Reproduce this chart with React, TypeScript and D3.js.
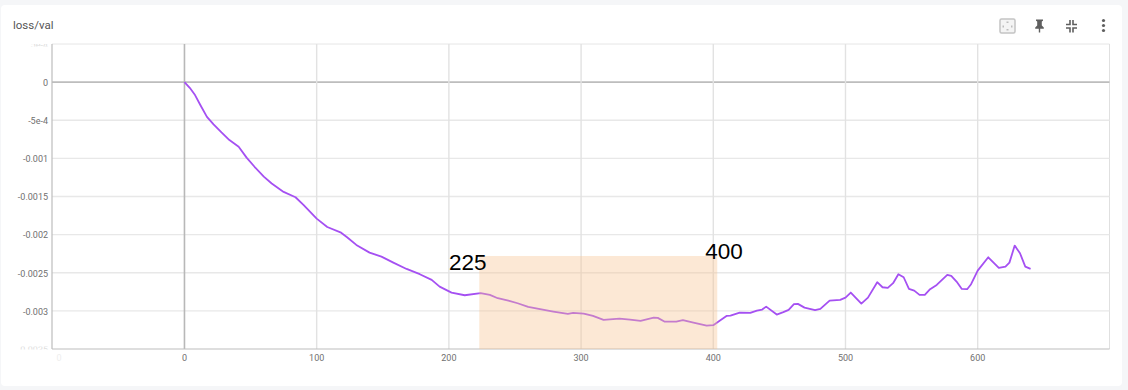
import React from "react";
import * as d3 from "d3";

const title = "loss/val";
const steps = [0,4,8,12,17,22,28,34,41,47,53,60,66,75,84,90,100,108,118,123,130,140,149,158,168,178,187,193,202,212,224,231,237,245,252,260,269,279,290,294,302,309,317,329,337,345,355,358,363,372,377,385,395,400,404,410,413,420,428,433,437,440,448,453,457,461,464,469,477,481,488,496,500,504,512,517,524,528,532,536,540,544,548,552,556,560,564,569,577,580,584,588,592,595,600,608,616,621,624,628,632,636,640];
const values = [0,-0.000074,-0.00017,-0.0003,-0.000455,-0.000555,-0.00066,-0.00076,-0.000847,-0.00099,-0.00111,-0.00124,-0.00133,-0.00144,-0.00151,-0.00161,-0.00179,-0.0019,-0.00197,-0.002035,-0.002135,-0.002236,-0.002289,-0.002367,-0.00245,-0.002519,-0.002594,-0.002682,-0.00276,-0.002795,-0.002768,-0.00279,-0.002834,-0.002865,-0.0029,-0.002948,-0.002978,-0.003009,-0.003039,-0.003026,-0.003035,-0.003066,-0.003118,-0.003101,-0.003114,-0.003131,-0.003088,-0.003092,-0.00314,-0.00314,-0.003122,-0.003154,-0.003193,-0.003188,-0.00314,-0.003066,-0.003062,-0.003022,-0.003026,-0.002996,-0.002983,-0.002944,-0.003048,-0.003017,-0.002987,-0.002912,-0.002908,-0.002957,-0.002991,-0.002974,-0.002865,-0.002856,-0.002826,-0.00276,-0.002904,-0.002826,-0.002624,-0.00269,-0.002699,-0.002637,-0.002519,-0.002559,-0.002712,-0.002734,-0.00279,-0.00279,-0.002716,-0.00266,-0.002528,-0.002542,-0.002616,-0.002712,-0.002716,-0.00265,-0.002472,-0.002297,-0.002437,-0.00242,-0.002367,-0.002144,-0.002244,-0.00242,-0.00245];
const xTicks = [0,100,200,300,400,500,600];
const yTicks = [0,-0.0005,-0.001,-0.0015,-0.002,-0.0025,-0.003];
const yTickLabels = ["0","-5e-4","-0.001","-0.0015","-0.002","-0.0025","-0.003"];
const bandStart = 223;
const bandEnd = 403;
const bandTop = -0.00228;
const annotations = [
  { label: "225", step: 200, value: -0.00246 },
  { label: "400", step: 394, value: -0.00231 },
];

const left = 52, right = 1109.5, top = 44, bottom = 349;
const fontUi = "Roboto, 'Noto Sans', sans-serif";

export default function App() {
  const x = d3.scaleLinear().domain([-100.2, 699.7]).range([left, right]);
  const y = d3.scaleLinear().domain([0.0005, -0.0035]).range([top, bottom]);
  const line = d3.line<number>()
    .x((_, i) => x(steps[i]))
    .y((d) => y(d))
    .curve(d3.curveLinear);
  return (
    <svg width={1128} height={390} style={{ position: "absolute", left: 0, top: 0, display: "block" }}>
      <defs>
        <clipPath id="ghostTop"><rect x={0} y={44} width={50} height={2.5} /></clipPath>
        <clipPath id="ghostBottom"><rect x={0} y={346.5} width={50} height={3} /></clipPath>
      </defs>
      <rect width={1128} height={390} fill="#f5f6f8" />
      <rect x={1} y={5} width={1121} height={381} rx={4} fill="#fff" />
      <text x={13} y={29} fontFamily={fontUi} fontSize={11.5} fill="#555">{title}</text>

      <line x1={left} x2={right} y1={top} y2={top} stroke="#e6e6e6" strokeWidth={1} />
      <line x1={right} x2={right} y1={top} y2={bottom} stroke="#e0e0e0" strokeWidth={1} />
      {yTicks.map((t, i) => (
        <g key={t}>
          <line x1={left} x2={right} y1={y(t)} y2={y(t)} stroke={t === 0 ? "#bdbdbd" : "#e8e8e8"} strokeWidth={t === 0 ? 1.6 : 1.4} />
          <text x={48} y={y(t) + 3.8} textAnchor="end" fontFamily={fontUi} fontSize={9} fill="#707070">{yTickLabels[i]}</text>
        </g>
      ))}
      <text x={48} y={y(0.0005) + 3.8} textAnchor="end" fontFamily={fontUi} fontSize={9} fill="#dddddd" clipPath="url(#ghostTop)">5e-4</text>
      <text x={48} y={y(-0.0035) + 3.8} textAnchor="end" fontFamily={fontUi} fontSize={9} fill="#dddddd" clipPath="url(#ghostBottom)">-0.0035</text>
      {xTicks.map((t) => (
        <g key={t}>
          <line x1={x(t)} x2={x(t)} y1={top} y2={bottom} stroke={t === 0 ? "#b8b8b8" : "#e2e2e2"} strokeWidth={t === 0 ? 1.6 : 1.4} />
          <text x={x(t)} y={361} textAnchor="middle" fontFamily={fontUi} fontSize={9} fill="#707070">{t}</text>
        </g>
      ))}
      <text x={59} y={361} textAnchor="middle" fontFamily={fontUi} fontSize={9} fill="#eeeeee">0</text>
      <line x1={left} x2={left} y1={top} y2={bottom} stroke="#bdbdbd" strokeWidth={1.2} />
      <line x1={left} x2={right} y1={bottom} y2={bottom} stroke="#bdbdbd" strokeWidth={1.2} />

      <path d={line(values) ?? ""} fill="none" stroke="#a550f2" strokeWidth={1.8} strokeLinejoin="round" />

      <rect x={x(bandStart)} y={y(bandTop)} width={x(bandEnd) - x(bandStart)} height={bottom - y(bandTop)} fill="rgb(246,195,145)" fillOpacity={0.38} />
      {annotations.map((a) => (
        <text key={a.label} x={x(a.step)} y={y(a.value) + 0.5} fontFamily="'Liberation Sans', Arial, sans-serif" fontSize={22.5} fill="#000">{a.label}</text>
      ))}

      {/* fit-to-domain icon */}
      <rect x={1000} y={19} width={15} height={14} rx={1.5} fill="#f4f4f4" stroke="#c4c4c4" strokeWidth={1.5} />
      <g fill="#bdbdbd">
        <rect x={1006.5} y={21.5} width={2} height={1.5} />
        <rect x={1006.5} y={29} width={2} height={1.5} />
        <rect x={1002.5} y={25.5} width={1.5} height={2} />
        <rect x={1011} y={25.5} width={1.5} height={2} />
      </g>
      {/* pin icon */}
      <path d="M1036 19.5h7v1.2l-1.2.8v4l2 2v1.2h-3.6v3.8h-1.4v-3.8h-3.6v-1.2l2-2v-4l-1.2-.8z" fill="#5f5f5f" />
      {/* collapse icon */}
      <g fill="none" stroke="#5f5f5f" strokeWidth={1.6}>
        <path d="M1066 24.5h4v-4.5" />
        <path d="M1077 24.5h-4v-4.5" />
        <path d="M1066 28h4v4.5" />
        <path d="M1077 28h-4v4.5" />
      </g>
      {/* more icon */}
      <g fill="#5f5f5f">
        <circle cx={1103.5} cy={20.5} r={1.6} />
        <circle cx={1103.5} cy={25.5} r={1.6} />
        <circle cx={1103.5} cy={30.5} r={1.6} />
      </g>
    </svg>
  );
}
